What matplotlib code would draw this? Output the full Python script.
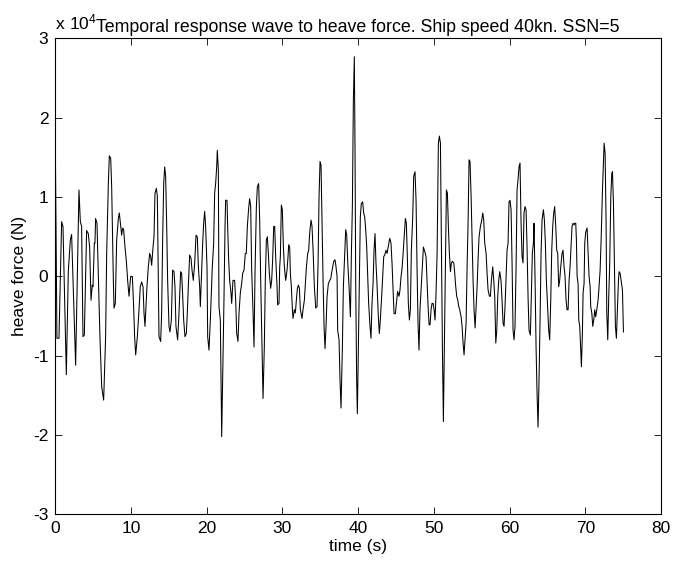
import matplotlib
matplotlib.use("Agg")
import matplotlib.pyplot as plt

plt.rcParams["font.family"] = ["Liberation Sans", "DejaVu Sans"]
plt.rcParams["mathtext.fontset"] = "custom"
plt.rcParams["mathtext.rm"] = "Liberation Sans"
plt.rcParams["axes.unicode_minus"] = False

# Heave force time history (values in units of 1e4 N)
time_s = [
    0.0, 0.22, 0.49, 0.84, 1.02, 1.46, 1.72, 1.99, 2.16, 2.69,
    3.13, 3.31, 3.48, 3.66, 3.84, 4.14, 4.36, 4.54, 4.72, 4.89,
    4.98, 5.16, 5.24, 5.33, 5.51, 5.60, 5.90, 6.13, 6.39, 6.65,
    6.79, 7.01, 7.14, 7.32, 7.45, 7.67, 7.76, 7.93, 8.11, 8.33,
    8.46, 8.64, 8.77, 8.90, 9.03, 9.21, 9.39, 9.56, 9.74,
    9.96, 10.18, 10.35, 10.48, 10.62, 10.84, 11.06, 11.23, 11.41, 11.59,
    11.72, 11.85, 11.94, 12.11, 12.29, 12.47, 12.60, 12.73, 12.91, 13.04,
    13.17, 13.35, 13.48, 13.61, 13.70, 13.92, 14.05, 14.18, 14.32, 14.45,
    14.58, 14.71, 14.84, 15.02, 15.15, 15.33, 15.50, 15.68, 15.81, 15.94,
    16.16, 16.30, 16.43, 16.56, 16.69, 16.83, 16.96, 17.13, 17.31, 17.44,
    17.57, 17.75, 17.93, 18.06, 18.23, 18.41, 18.59, 18.76, 18.90, 19.07,
    19.16, 19.33, 19.47, 19.60,
    19.73, 19.86, 20.04, 20.13, 20.30, 20.48, 20.61, 20.74, 20.92, 21.05,
    21.18, 21.32, 21.40, 21.54, 21.62, 21.80, 21.98, 22.15, 22.28, 22.42,
    22.50, 22.68, 22.77, 22.90, 23.03, 23.21, 23.30, 23.47, 23.69, 23.83,
    23.96, 24.13, 24.27, 24.44, 24.62, 24.75, 24.93, 25.10, 25.23, 25.37,
    25.54, 25.67, 25.81, 25.94, 26.11, 26.25, 26.38, 26.56, 26.69, 26.86,
    27.00, 27.13, 27.30, 27.44, 27.61, 27.74, 27.88, 28.01, 28.14, 28.27,
    28.45, 28.58, 28.71, 28.85, 28.98, 29.11, 29.29, 29.37,
    29.55, 29.64, 29.73, 29.86, 29.99, 30.13, 30.26, 30.43, 30.61, 30.74,
    30.83, 30.96, 31.05, 31.18, 31.32, 31.40, 31.58, 31.71, 31.84, 31.98,
    32.11, 32.24, 32.37, 32.59, 32.72, 32.90, 33.03, 33.17, 33.34, 33.47,
    33.61, 33.78, 33.91, 34.05, 34.22, 34.40, 34.57, 34.71, 34.84, 34.97,
    35.10, 35.23, 35.37, 35.50, 35.63, 35.76, 35.90, 36.07, 36.25, 36.38,
    36.56, 36.78, 36.95, 37.08, 37.22, 37.30, 37.48, 37.61, 37.74, 37.92,
    38.05, 38.23, 38.36, 38.49, 38.63, 38.80, 38.98, 39.11, 39.24, 39.37,
    39.50, 39.59, 39.68, 39.81, 39.90, 40.03, 40.16, 40.29, 40.42, 40.60,
    40.73, 40.87, 41.00, 41.13, 41.26, 41.39, 41.57, 41.70, 41.83, 41.97,
    42.10, 42.23, 42.36, 42.49, 42.67, 42.80, 42.93, 43.11, 43.24, 43.38,
    43.51, 43.68, 43.82, 43.99, 44.17, 44.34, 44.48, 44.61, 44.74, 44.92,
    45.05, 45.22, 45.40, 45.53, 45.67, 45.80, 45.97, 46.11, 46.24, 46.37,
    46.50, 46.63, 46.77, 46.90, 47.03, 47.21, 47.34, 47.51, 47.65, 47.78,
    47.91, 48.04, 48.17, 48.31, 48.48, 48.62, 48.75,
    48.97, 49.10, 49.24, 49.37, 49.50, 49.63, 49.76, 49.90, 50.03, 50.16,
    50.29, 50.43, 50.60, 50.73, 50.87, 51.00, 51.13, 51.26, 51.39, 51.53,
    51.66, 51.79, 51.92, 52.05, 52.19, 52.32, 52.45, 52.63, 52.76, 52.89,
    53.02, 53.16, 53.29, 53.42, 53.60, 53.73, 53.86, 53.99, 54.12, 54.26,
    54.39, 54.52, 54.65, 54.78, 54.92, 55.05, 55.18, 55.31, 55.45, 55.58,
    55.71, 55.84, 55.97, 56.15, 56.33, 56.46, 56.59, 56.72, 56.90, 57.03,
    57.16, 57.34, 57.47, 57.60, 57.78, 57.91, 58.04, 58.18, 58.31, 58.44,
    58.57, 58.70,
    58.87, 59.01, 59.14, 59.27, 59.40, 59.53, 59.67, 59.80, 59.93, 60.06,
    60.20, 60.33, 60.46, 60.59, 60.72, 60.86, 60.99, 61.12, 61.25, 61.38,
    61.52, 61.65, 61.78, 61.91, 62.04, 62.18, 62.31, 62.44, 62.57, 62.75,
    62.88, 63.01, 63.15, 63.23, 63.37, 63.50, 63.63, 63.76, 63.89, 64.03,
    64.16, 64.29, 64.47, 64.60, 64.73, 64.86, 65.04, 65.17, 65.30, 65.44,
    65.57, 65.70, 65.83, 65.96, 66.10, 66.23, 66.36, 66.49, 66.62, 66.76,
    66.93, 67.06, 67.20, 67.33, 67.46, 67.59, 67.73, 67.86, 67.99, 68.12,
    68.25, 68.39, 68.52,
    68.61, 68.74, 68.83, 68.92, 69.05, 69.14, 69.27, 69.40, 69.49, 69.62,
    69.71, 69.84, 69.93, 70.06, 70.24, 70.37, 70.50, 70.64, 70.72, 70.86,
    70.99, 71.12, 71.25, 71.38, 71.52, 71.69, 71.82, 71.96, 72.09, 72.27,
    72.40, 72.49, 72.62, 72.75, 72.84, 72.97, 73.10, 73.23, 73.37, 73.50,
    73.59, 73.72, 73.85, 73.98, 74.11, 74.25, 74.38, 74.47, 74.60, 74.73,
    74.91, 75.04,
]

heave_force = [
    1.74, -0.78, -0.78, 0.69, 0.63, -1.24, 0.06, 0.46, 0.53, -1.12,
    1.09, 0.69, 0.63, -0.76, -0.74, 0.58, 0.54, 0.37, -0.30, -0.11,
    -0.13, 0.42, 0.42, 0.73, 0.67, 0.33, -0.76, -1.39, -1.56, -0.76,
    0.29, 1.17, 1.52, 1.49, 1.13, -0.05, -0.40, -0.34, 0.46, 0.73,
    0.80, 0.63, 0.52, 0.61, 0.59, 0.37, 0.19, -0.05, -0.25,
    0.00, 0.00, -0.38, -0.76, -0.99, -0.76, -0.42, -0.13, -0.07, -0.13,
    -0.46, -0.63, -0.46, -0.13, 0.12, 0.29, 0.25, 0.14, 0.37, 0.50,
    1.05, 1.11, 1.01, -0.05, -0.76, -0.82, -0.46, 0.46, 1.17, 1.38,
    1.26, 0.67, -0.05, -0.63, -0.70, -0.55, 0.08, 0.06, -0.13, -0.63,
    -0.80, -0.55, -0.25, 0.06, 0.04, -0.25, -0.55, -0.76, -0.72, -0.46,
    -0.13, 0.27, 0.23, 0.08, -0.05, 0.16, 0.52, 0.50, 0.12, -0.13,
    -0.38, 0.08, 0.42, 0.67,
    0.82, 0.63, 0.12, -0.76, -0.93, -0.55, -0.21, 0.12, 0.42, 1.05,
    1.17, 1.38, 1.59, 1.34, -0.38, -0.55, -2.02, -1.05, -0.30, 0.63,
    0.96, 0.96, 0.63, 0.21, -0.05, -0.21, -0.34, -0.05, -0.05, -0.30,
    -0.72, -0.82, -0.46, -0.21, -0.09, 0.04, 0.08, 0.29, 0.29, 0.63,
    0.86, 0.98, 0.88, 0.08, -0.42, -0.89, 0.04, 0.88, 1.13, 1.17,
    0.71, -0.05, -0.89, -1.54, -0.89, -0.05, 0.46, 0.50, 0.29, 0.04,
    -0.15, -0.05, 0.21, 0.63, 0.63, 0.25, -0.13, -0.36,
    -0.34, 0.12, 0.25, 0.90, 0.84, 0.37, 0.12, -0.05, 0.08, 0.25,
    0.40, 0.37, 0.04, -0.13, -0.42, -0.53, -0.42, -0.46, -0.30, -0.15,
    -0.11, -0.15, -0.42, -0.53, -0.42, -0.30, -0.09, 0.12, 0.29, 0.33,
    0.56, 0.71, 0.63, 0.33, -0.13, -0.40, -0.38, 0.17, 1.01, 1.45,
    1.40, 0.71, -0.05, -0.63, -0.91, -0.63, -0.25, -0.09, -0.05, -0.03,
    0.08, 0.19, 0.21, 0.12, 0.00, -0.68, -0.80, -1.31, -1.66, -0.89,
    -0.13, 0.29, 0.59, 0.52, 0.17, -0.13, -0.51, 0.29, 0.88, 2.22,
    2.77, 1.59, -0.09, -1.35, -1.73, -0.93, -0.09, 0.75, 0.92, 0.94,
    0.80, 0.75, 0.59, 0.38, 0.00, -0.34, -0.63, -0.78, -0.34, -0.09,
    0.33, 0.54, 0.16, -0.09, -0.51, -0.72, -0.55, -0.25, 0.00, 0.25,
    0.27, 0.33, 0.29, 0.38, 0.48, 0.42, 0.16, -0.17, -0.47, -0.47,
    -0.34, -0.19, -0.25, -0.17, 0.00, 0.10, 0.33, 0.54, 0.73, 0.67,
    0.25, -0.34, -0.55, -0.42, 0.33, 0.75, 1.26, 1.32, 0.96, 0.12,
    -0.59, -0.93, -0.42, -0.17, 0.12, 0.37, 0.33,
    0.25, -0.05, -0.38, -0.61, -0.61, -0.42, -0.34, -0.34, -0.42, -0.55,
    -0.21, 0.29, 1.68, 1.77, 1.68, 0.37, -0.89, -1.83, -0.89, 0.12,
    1.09, 1.05, 0.63, 0.29, 0.06, 0.17, 0.19, 0.17, 0.04, -0.13,
    -0.25, -0.30, -0.38, -0.42, -0.51, -0.63, -0.84, -0.99, -0.80, -0.59,
    0.12, 0.67, 1.47, 1.45, 1.01, 0.46, -0.05, -0.42, -0.65, -0.38,
    -0.13, 0.21, 0.50, 0.63, 0.71, 0.80, 0.71, 0.42, 0.29, 0.04,
    -0.17, -0.25, -0.25, -0.05, 0.12, -0.05, -0.25, -0.84, -0.68, -0.25,
    -0.05, 0.06,
    -0.05, -0.30, -0.59, -0.63, -0.38, -0.05, 0.33, 0.42, 0.94, 0.96,
    0.84, 0.17, -0.68, -0.80, -0.63, 0.12, 1.09, 1.22, 1.38, 1.43,
    0.67, 0.25, 0.17, 0.80, 0.88, 0.84, 0.37, -0.25, -0.68, -0.74,
    -0.25, 0.29, 0.42, 0.67, -0.05, -0.89, -1.47, -1.90, -1.31, -0.55,
    0.29, 0.71, 0.84, 0.71, 0.42, -0.05, -0.42, -0.68, -0.80, -0.30,
    0.33, 0.63, 0.80, 0.88, 0.63, 0.33, 0.29, -0.13, -0.05, 0.12,
    0.29, 0.33, 0.12, 0.00, -0.30, -0.42, -0.42, -0.05, 0.12, 0.37,
    0.63, 0.67, 0.65,
    0.67, 0.67, 0.46, 0.00, -0.09, -0.55, -0.63, -0.93, -1.14, -0.72,
    -0.21, -0.09, 0.42, 0.56, 0.61, 0.29, 0.00, -0.13, -0.38, -0.46,
    -0.63, -0.55, -0.42, -0.51, -0.42, -0.30, -0.13, 0.08, 0.46, 1.09,
    1.43, 1.68, 1.55, 0.67, -0.46, -0.80, -0.25, 0.17, 1.01, 1.30,
    1.32, 0.92, 0.12, -0.63, -0.78, -0.38, -0.05, 0.06, 0.04, -0.05,
    -0.17, -0.70,
]

x_ticks = [0, 10, 20, 30, 40, 50, 60, 70, 80]
y_ticks = [-3, -2, -1, 0, 1, 2, 3]

fig = plt.figure(figsize=(6.74, 5.66), dpi=100)
ax = fig.add_axes([0.0820, 0.0913, 0.8987, 0.8407])

ax.plot(time_s, heave_force, color="black", linewidth=0.75)

ax.set_xlim(0, 80)
ax.set_ylim(-3, 3)
ax.set_xticks(x_ticks)
ax.set_yticks(y_ticks)
ax.tick_params(direction="in", length=5, width=0.6, labelsize=12.5,
               top=True, right=True, pad=5)
for s in ax.spines.values():
    s.set_linewidth(0.8)

ax.set_xlabel("time (s)", fontsize=12.5, labelpad=2)
ax.set_ylabel("heave force (N)", fontsize=12.5, labelpad=4)
ax.set_title("Temporal response wave to heave force. Ship speed 40kn. SSN=5",
             fontsize=12.8, pad=5)
ax.text(0.0, 1.012, r"$\mathregular{x\ 10^{4}}$", transform=ax.transAxes,
        fontsize=12.5, ha="left", va="bottom")

fig.savefig("out.png", dpi=100)
